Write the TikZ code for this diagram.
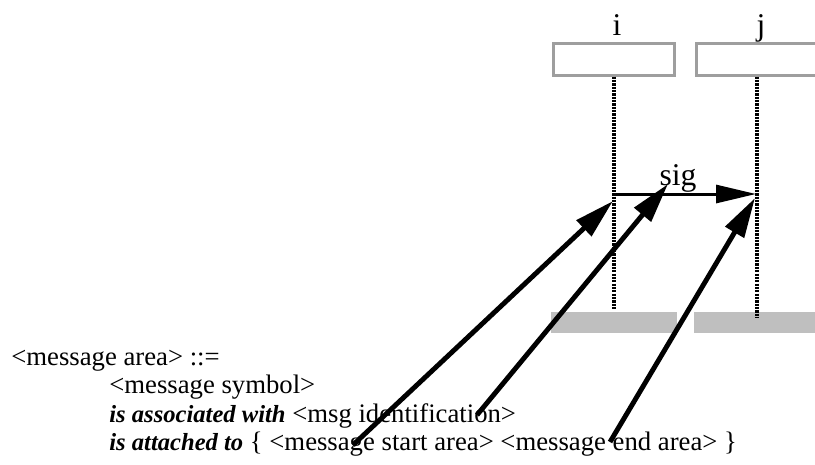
\documentclass[tikz,border=0pt]{standalone}
\usepackage{fontspec}
\setmainfont{Liberation Serif}
\usetikzlibrary{arrows.meta,positioning}

\newcommand{\kw}[1]{{\fontsize{14}{17}\selectfont\bfseries\itshape #1}}

\tikzset{
  headbox/.style={draw=black!38, line width=1.2pt, fill=white, minimum width=2.42cm, minimum height=0.64cm, inner sep=0pt},
  axisbar/.style={fill=black!25, draw=none, minimum width=2.52cm, minimum height=0.42cm, inner sep=0pt},
  lifeline/.style={line width=2.3pt, dash pattern=on 1.3pt off 0.6pt},
  msgline/.style={line width=1.7pt, -{Triangle[length=0.8cm, width=0.36cm]}},
  pointer/.style={line width=2.8pt, -{Triangle[length=0.8cm, width=0.42cm]}},
  bigtxt/.style={font=\fontsize{18}{20}\selectfont, inner sep=0pt},
  ruletxt/.style={font=\fontsize{15.2}{17}\selectfont, inner sep=0pt, anchor=base west},
}

\begin{document}
\begin{tikzpicture}[x=0.02cm, y=-0.02cm]
  \useasboundingbox (0,0) rectangle (815,464);

  % Drawing instance heads i and j
  \node [headbox] (headi) at (614,59.5) {};
  \node [headbox] (headj) at (757,59.5) {};
  \node [bigtxt, anchor=base] (namei) at (617,35) {i};
  \node [bigtxt, anchor=base] (namej) at (761,35) {j};

  % Drawing the axis bars
  \node [axisbar] (bari) at (614,322.5) {};
  \node [axisbar] (barj) at (757,322.5) {};

  % Drawing lifelines
  \coordinate (endi) at (614,309);
  \coordinate (endj) at (757,317);
  \draw [lifeline] (headi.south) -- (endi);%
  \draw [lifeline] (headj.south) -- (endj);%

  % Drawing message sig
  \coordinate (sigout) at (613,194);
  \coordinate (sigin) at (756,194);
  \draw [msgline] (sigout) -- (sigin);%
  \node [bigtxt, anchor=base] (siglab) at (678,185) {sig};

  % Marking the rule text
  \node [ruletxt] (rule1) at (11,365) {\textless message area\textgreater{} ::=};
  \node [ruletxt] (rule2) at (109,393.5) {\textless message symbol\textgreater};
  \node [ruletxt] (rule3) at (109,422) {\kw{is associated with} \textless msg identification\textgreater};
  \node [ruletxt] (rule4) at (109,450.5) {\kw{is attached to} \{ \textless message start area\textgreater{} \textless message end area\textgreater{} \}};

  % Drawing pointers from the rule to the picture
  \coordinate (fromstart) at (353,445);
  \coordinate (fromident) at (477,415);
  \coordinate (fromend) at (610,442);
  \coordinate (atstart) at (613,201);
  \coordinate (atsig) at (668,184);
  \coordinate (atend) at (755,198);
  \draw [pointer] (fromstart) -- (atstart);%
  \draw [pointer] (fromident) -- (atsig);%
  \draw [pointer] (fromend) -- (atend);%
\end{tikzpicture}
\end{document}
